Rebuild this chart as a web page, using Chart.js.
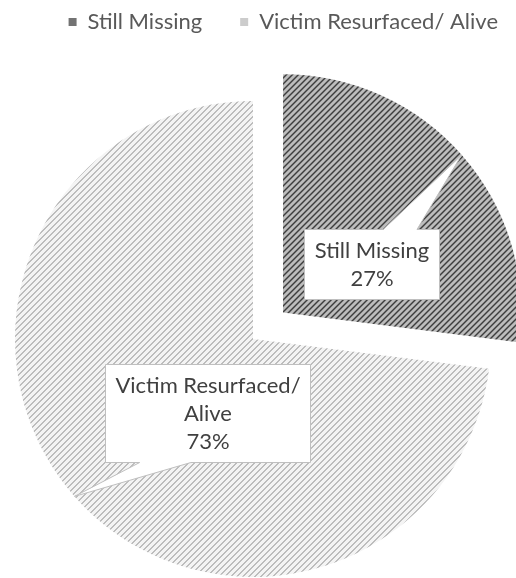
<!DOCTYPE html>
<html>
<head>
<meta charset="utf-8">
<title>Victim status</title>
<script src="https://cdn.jsdelivr.net/npm/chart.js@4.4.1/dist/chart.umd.min.js"></script>
<style>
  html, body { margin: 0; padding: 0; background: #fff; overflow: hidden; }
  /* the plot area of the original runs below the frame, so the canvas is a bit
     larger than the window and shifted 10px left */
  canvas { display: block; margin-left: -10px; }
</style>
</head>
<body>
<canvas id="statusChart" width="526" height="635"></canvas>
<script>
const categories = ['Still Missing', 'Victim Resurfaced/ Alive'];
const shares = [27, 73];

// hatch fills like the excel ones: stripe colour on a ground colour
const hatchGrounds = ['#bdbdbd', '#f4f4f4'];
const hatchStripes = ['#3a3a3a', '#bdbdbd'];
// the tiny legend squares just show as flat greys
const legendSwatches = ['#737373', '#cccccc'];

const canvas = document.getElementById('statusChart');
const ctx = canvas.getContext('2d');

const makeHatch = (ground, stripe) => {
    const tile = document.createElement('canvas');
    tile.width = 6;
    tile.height = 6;
    const t = tile.getContext('2d');
    t.fillStyle = ground;
    t.fillRect(0, 0, 6, 6);
    t.fillStyle = stripe;
    for (let y = 0; y < 6; y++) {
        for (let x = 0; x < 6; x++) {
            if ((x + y) % 6 < 2) t.fillRect(x, y, 1, 1);
        }
    }
    return ctx.createPattern(tile, 'repeat');
};

const wrapText = (c, text, maxWidth) => {
    const lines = [];
    let line = '';
    text.split(' ').forEach(word => {
        const test = line ? line + ' ' + word : word;
        if (line && c.measureText(test).width > maxWidth) {
            lines.push(line);
            line = word;
        } else {
            line = test;
        }
    });
    lines.push(line);
    return lines;
};

// callout boxes (label + percent) with a wedge pointing at the slice rim
const calloutLabels = {
    id: 'calloutLabels',
    afterDatasetsDraw(chart, args, opts) {
        const c = chart.ctx;
        const meta = chart.getDatasetMeta(0);
        const values = chart.data.datasets[0].data;
        const total = values.reduce((a, b) => a + b, 0);

        c.save();
        c.font = opts.font;
        meta.data.forEach((arc, i) => {
            const mid = (arc.startAngle + arc.endAngle) / 2;
            const shift = (arc.options.offset || 0) / 4;
            const cx = arc.x + Math.cos(mid) * shift;
            const cy = arc.y + Math.sin(mid) * shift;
            const tipX = cx + Math.cos(mid) * arc.outerRadius;
            const tipY = cy + Math.sin(mid) * arc.outerRadius;

            const lines = wrapText(c, chart.data.labels[i], opts.maxWidth);
            lines.push(Math.round(values[i] / total * 100) + '%');
            const w = Math.round(Math.max(...lines.map(l => c.measureText(l).width)) + opts.padX * 2);
            const h = lines.length * opts.lineHeight + opts.padY * 2;
            const bx = Math.round(cx + opts.boxOffsets[i][0] - w / 2) + 0.5;
            const by = Math.round(cy + opts.boxOffsets[i][1] - h / 2) + 0.5;

            const dx = (tipX - (bx + w / 2)) / w;
            const dy = (tipY - (by + h / 2)) / h;
            const corners = [[bx, by], [bx + w, by], [bx + w, by + h], [bx, by + h]];
            let edge, base;
            if (Math.abs(dy) > Math.abs(dx)) {
                const f = dx > 0 ? [7 / 12, 10 / 12] : [2 / 12, 5 / 12];
                const yE = dy < 0 ? by : by + h;
                base = [[bx + w * f[0], yE], [bx + w * f[1], yE]];
                edge = dy < 0 ? 0 : 2;
            } else {
                const f = dy > 0 ? [7 / 12, 10 / 12] : [2 / 12, 5 / 12];
                const xE = dx < 0 ? bx : bx + w;
                base = [[xE, by + h * f[0]], [xE, by + h * f[1]]];
                edge = dx < 0 ? 3 : 1;
            }
            if (edge >= 2) base.reverse();

            c.beginPath();
            corners.forEach((p, k) => {
                c.lineTo(p[0], p[1]);
                if (k === edge) {
                    c.lineTo(base[0][0], base[0][1]);
                    c.lineTo(tipX, tipY);
                    c.lineTo(base[1][0], base[1][1]);
                }
            });
            c.closePath();
            c.fillStyle = '#ffffff';
            c.fill();
            c.lineWidth = 1;
            c.strokeStyle = '#bfbfbf';
            c.stroke();

            c.fillStyle = opts.color;
            c.textAlign = 'center';
            c.textBaseline = 'middle';
            lines.forEach((l, k) => {
                c.fillText(l, bx + w / 2, by + opts.padY + opts.lineHeight * (k + 0.5));
            });
        });
        c.restore();
    }
};

new Chart(ctx, {
    type: 'pie',
    data: {
        labels: categories,
        datasets: [{
            data: shares,
            backgroundColor: hatchGrounds.map((g, i) => makeHatch(g, hatchStripes[i])),
            borderWidth: 0,
            offset: [160, 0],
            radius: 238
        }]
    },
    options: {
        responsive: false,
        animation: false,
        events: [],
        layout: {
            // negative values only move the legend, the plot area stays inside the canvas
            padding: { top: -27, bottom: 0, left: 0, right: -20 }
        },
        plugins: {
            legend: {
                position: 'top',
                align: 'end',
                labels: {
                    boxWidth: 8,
                    boxHeight: 8,
                    padding: 38,
                    color: '#595959',
                    font: { family: 'Lato', size: 22 },
                    generateLabels: (chart) => {
                        const items = Chart.controllers.pie.overrides.plugins.legend.labels.generateLabels(chart);
                        items.forEach((item, i) => {
                            item.fillStyle = legendSwatches[i];
                            item.lineWidth = 0;
                        });
                        return items;
                    }
                }
            },
            tooltip: { enabled: false },
            calloutLabels: {
                font: '22px Lato',
                color: '#404040',
                maxWidth: 200,
                lineHeight: 28,
                padX: 10,
                padY: 7,
                boxOffsets: [[88, -49], [-46, 74]]
            }
        }
    },
    plugins: [calloutLabels]
});
</script>
</body>
</html>
